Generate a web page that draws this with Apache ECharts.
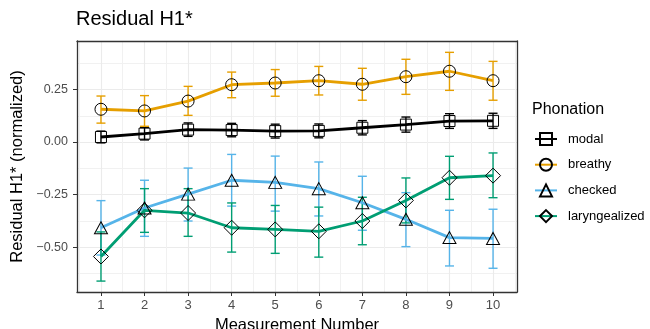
<!DOCTYPE html>
<html>
<head>
<meta charset="utf-8">
<script src="https://cdn.jsdelivr.net/npm/echarts@6/dist/echarts.min.js"></script>
<style>
  html, body { margin: 0; padding: 0; background: #fff; }
  #chart { width: 650px; height: 329px; }
</style>
</head>
<body>
<div id="chart"></div>
<script>
// data
var measurement = [1, 2, 3, 4, 5, 6, 7, 8, 9, 10];

var modalMean = [0.024, 0.040, 0.059, 0.057, 0.052, 0.053, 0.068, 0.083, 0.100, 0.101];
var modalLo = [-0.004, 0.010, 0.027, 0.025, 0.019, 0.020, 0.034, 0.047, 0.065, 0.065];
var modalHi = [0.052, 0.070, 0.091, 0.089, 0.085, 0.086, 0.102, 0.119, 0.135, 0.137];

var breathyMean = [0.156, 0.148, 0.195, 0.273, 0.281, 0.292, 0.275, 0.311, 0.337, 0.292];
var breathyLo = [0.090, 0.075, 0.127, 0.211, 0.218, 0.224, 0.199, 0.227, 0.246, 0.199];
var breathyHi = [0.219, 0.221, 0.265, 0.333, 0.345, 0.360, 0.351, 0.394, 0.427, 0.384];

var checkedMean = [-0.408, -0.314, -0.248, -0.182, -0.192, -0.222, -0.289, -0.368, -0.455, -0.459];
var checkedLo = [-0.538, -0.449, -0.376, -0.305, -0.329, -0.352, -0.420, -0.498, -0.590, -0.601];
var checkedHi = [-0.279, -0.182, -0.124, -0.059, -0.067, -0.095, -0.163, -0.241, -0.325, -0.320];

var larMean = [-0.545, -0.325, -0.338, -0.408, -0.416, -0.425, -0.376, -0.278, -0.170, -0.160];
var larLo = [-0.662, -0.430, -0.449, -0.524, -0.530, -0.548, -0.489, -0.385, -0.273, -0.265];
var larHi = [-0.428, -0.222, -0.222, -0.290, -0.302, -0.310, -0.263, -0.171, -0.068, -0.052];

var yTicks = [-0.5, -0.25, 0, 0.25];
var yMinor = [-0.625, -0.375, -0.125, 0.125, 0.375];
var xMinor = [0.5, 1.5, 2.5, 3.5, 4.5, 5.5, 6.5, 7.5, 8.5, 9.5, 10.5];

var FONT = "Liberation Sans";
var BORDER = { show: true, onZero: false, lineStyle: { color: "#333", width: 1.3 } };

var groups = [
  { name: "modal", color: "#000000", symbol: "rect", size: 11, mean: modalMean, lo: modalLo, hi: modalHi },
  { name: "breathy", color: "#E69F00", symbol: "circle", size: 12, mean: breathyMean, lo: breathyLo, hi: breathyHi },
  { name: "checked", color: "#56B4E9", symbol: "triangle", size: [13, 12], mean: checkedMean, lo: checkedLo, hi: checkedHi },
  { name: "laryngealized", color: "#009E73", symbol: "diamond", size: [15, 15], mean: larMean, lo: larLo, hi: larHi }
];

function pair(a, b) {
  return measurement.map(function (m, i) { return b ? [m, a[i], b[i]] : [m, a[i]]; });
}

function errorBar(color) {
  return function (params, api) {
    var x = api.value(0);
    var top = api.coord([x, api.value(2)]);
    var bot = api.coord([x, api.value(1)]);
    var hw = 4.5;
    var st = { stroke: color, lineWidth: 1.4 };
    return {
      type: "group",
      children: [
        { type: "line", shape: { x1: top[0], y1: top[1], x2: bot[0], y2: bot[1] }, style: st },
        { type: "line", shape: { x1: top[0] - hw, y1: top[1], x2: top[0] + hw, y2: top[1] }, style: st },
        { type: "line", shape: { x1: bot[0] - hw, y1: bot[1], x2: bot[0] + hw, y2: bot[1] }, style: st }
      ]
    };
  };
}

var series = [];
groups.forEach(function (g) {
  series.push({
    type: "custom",
    name: g.name + "-se",
    renderItem: errorBar(g.color),
    encode: { x: 0, y: [1, 2] },
    data: pair(g.lo, g.hi),
    z: 2,
    silent: true
  });
});
groups.forEach(function (g) {
  series.push({
    type: "line",
    name: g.name,
    data: pair(g.mean),
    symbol: g.symbol,
    symbolSize: g.size,
    showAllSymbol: true,
    lineStyle: { color: g.color, width: 2.8 },
    itemStyle: { color: "rgba(0,0,0,0)", borderColor: "#000", borderWidth: 1 },
    z: 3
  });
});

var chart = echarts.init(document.getElementById("chart"));
chart.setOption({
  animation: false,
  backgroundColor: "#fff",
  textStyle: { fontFamily: FONT },
  title: [
    { text: "Residual H1*", left: 76, top: 9, padding: 0,
      textStyle: { fontFamily: FONT, fontSize: 20, fontWeight: "normal", color: "#000" } },
    { text: "Phonation", left: 532, top: 102, padding: 0,
      textStyle: { fontFamily: FONT, fontSize: 16, fontWeight: "normal", color: "#000" } }
  ],
  legend: {
    data: groups.map(function (g) { return g.name; }),
    orient: "vertical",
    left: 534,
    top: 132,
    padding: 0,
    itemWidth: 22,
    itemHeight: 15,
    itemGap: 11.7,
    selectedMode: false,
    textStyle: { fontFamily: FONT, fontSize: 13, color: "#000", padding: [0, 0, 0, 6] }
  },
  grid: {
    left: 77, top: 41, width: 440, height: 251,
    outerBoundsMode: "none",
    containLabel: false
  },
  xAxis: [
    {
      type: "value", min: 0.45, max: 10.55, position: "bottom",
      name: "Measurement Number", nameLocation: "middle", nameGap: 21,
      nameTextStyle: { fontFamily: FONT, fontSize: 16.5, color: "#000" },
      axisLine: BORDER,
      axisTick: { show: true, length: 4, customValues: measurement, lineStyle: { color: "#333" } },
      axisLabel: { customValues: measurement, margin: 7, fontFamily: FONT, fontSize: 13, color: "#4D4D4D" },
      splitLine: { show: true, lineStyle: { color: "#EBEBEB", width: 1.1 } }
    },
    {
      type: "value", min: 0.45, max: 10.55, position: "top",
      axisLine: BORDER,
      axisTick: { show: false, customValues: xMinor },
      axisLabel: { show: false, customValues: xMinor },
      splitLine: { show: true, lineStyle: { color: "#F1F1F1", width: 1 } }
    }
  ],
  yAxis: [
    {
      type: "value", min: -0.714, max: 0.481, position: "left",
      name: "Residual H1* (normalized)", nameLocation: "middle", nameGap: 46,
      nameTextStyle: { fontFamily: FONT, fontSize: 16.5, color: "#000" },
      axisLine: BORDER,
      axisTick: { show: true, length: 4, customValues: yTicks, lineStyle: { color: "#333" } },
      axisLabel: {
        customValues: yTicks, margin: 9, fontFamily: FONT, fontSize: 12.5, color: "#4D4D4D",
        formatter: function (v) { return v.toFixed(2).replace("-", "\u2212"); }
      },
      splitLine: { show: true, lineStyle: { color: "#EBEBEB", width: 1.1 } }
    },
    {
      type: "value", min: -0.714, max: 0.481, position: "right",
      axisLine: BORDER,
      axisTick: { show: false, customValues: yMinor },
      axisLabel: { show: false, customValues: yMinor },
      splitLine: { show: true, lineStyle: { color: "#F1F1F1", width: 1 } }
    }
  ],
  series: series
});
</script>
</body>
</html>
